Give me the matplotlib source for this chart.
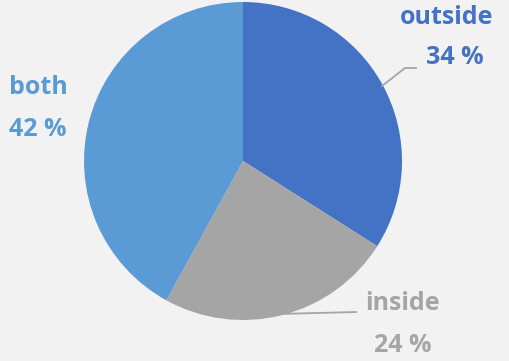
import matplotlib.pyplot as plt

labels = ['outside', 'inside', 'both']
shares = [34, 24, 42]
colors = ['#4472C4', '#A5A5A5', '#5B9BD5']

W, H = 510, 361
fig = plt.figure(figsize=(W / 100, H / 100), dpi=100, facecolor='#F2F2F2')
ax = fig.add_axes([0, 0, 1, 1])
ax.set_facecolor('#F2F2F2')

# pie centre / radius in pixel coords (y measured from the bottom)
cx, cy, r = 243, H - 161, 159
ax.pie(shares, colors=colors, startangle=90, counterclock=False,
       center=(cx, cy), radius=r, frame=True,
       wedgeprops=dict(linewidth=0))
ax.set_xlim(0, W)
ax.set_ylim(0, H)
ax.set_aspect('equal')
ax.axis('off')

font = dict(family=['Open Sans', 'DejaVu Sans'], fontweight='bold', fontsize=18)

# leader lines
ax.plot([382, 405, 416], [H - 86, H - 68, H - 68], color='#A5A5A5', lw=1.3)
ax.plot([278, 356], [H - 314, H - 312], color='#A5A5A5', lw=1.3)

# labels
ax.text(447, H - 18, labels[0], color=colors[0], ha='center', va='center', **font)
ax.text(455, H - 58, f'{shares[0]} %', color=colors[0], ha='center', va='center', **font)
ax.text(403, H - 304, labels[1], color=colors[1], ha='center', va='center', **font)
ax.text(403, H - 346, f'{shares[1]} %', color=colors[1], ha='center', va='center', **font)
ax.text(38, H - 87, labels[2], color=colors[2], ha='center', va='center', **font)
ax.text(38, H - 129, f'{shares[2]} %', color=colors[2], ha='center', va='center', **font)

fig.savefig('out.png', dpi=100, facecolor=fig.get_facecolor())
